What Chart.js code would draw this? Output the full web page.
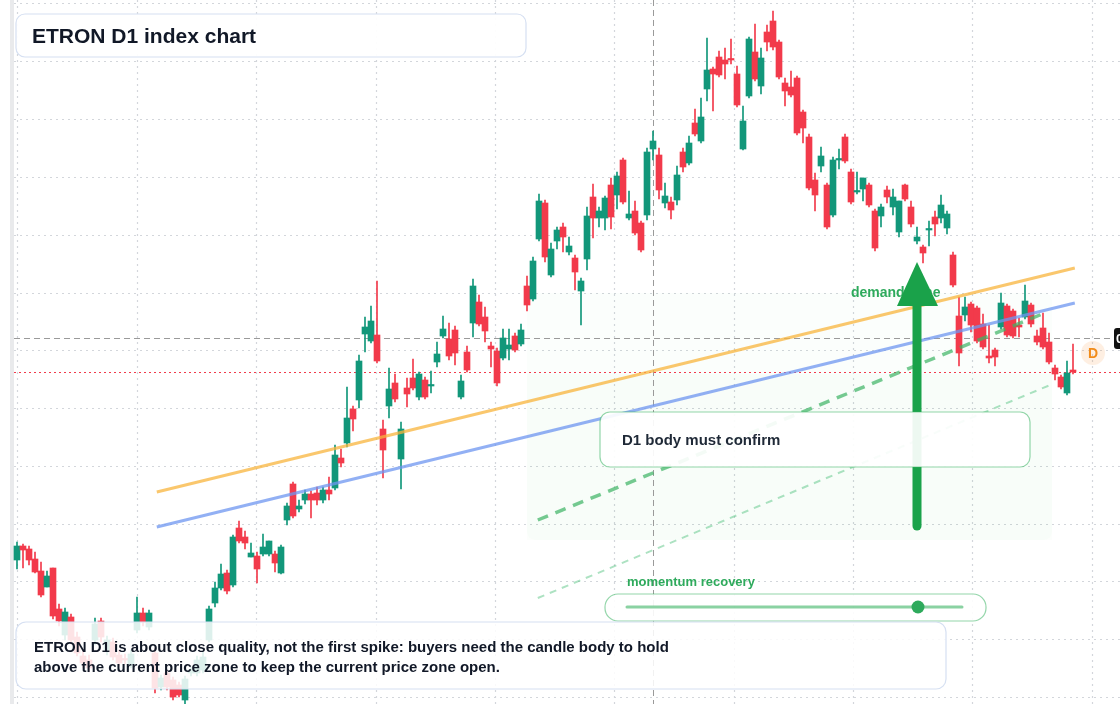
<!DOCTYPE html>
<html><head><meta charset="utf-8">
<script src="https://cdn.jsdelivr.net/npm/chart.js@4"></script>
<style>html,body{margin:0;padding:0;background:#fff}#w{width:1120px;height:704px}</style>
</head><body><div id="w"><canvas id="c"></canvas></div>
<script>
const opens  = [144,158,155,145,133,117,136,95,69,87,67,48,44,64,83,54,62,49,45,39,74,91,77,51,17,31,24,19,4,31,31,34,64,101,116,131,119,176,167,147,148,150,150,150,131,184,220,195,204,210,211,204,214,216,246,261,295,304,370,363,369,275,298,321,245,316,326,307,324,318,342,368,365,374,307,352,381,402,387,358,353,346,355,368,360,418,405,465,501,429,463,477,452,446,413,445,507,486,486,519,509,544,486,493,481,489,555,549,501,502,504,552,541,581,563,615,635,647,644,645,630,555,608,652,618,672,683,662,621,617,626,592,567,524,538,519,489,544,567,532,512,515,519,493,488,514,497,472,519,497,463,457,474,487,486,476,449,388,389,400,396,380,348,354,377,398,393,379,387,399,368,376,362,336,327,311,334];
const highs  = [162,160,158,152,142,133,136,100,96,90,72,54,49,86,86,68,66,54,50,54,107,96,94,56,29,34,27,22,28,37,48,52,98,122,140,134,169,183,173,161,152,170,163,153,159,201,222,204,214,213,217,217,227,259,255,317,298,349,387,398,423,284,336,330,282,326,345,332,327,333,362,388,381,378,329,358,425,409,397,362,356,375,375,371,380,428,447,510,504,461,477,481,467,449,426,497,520,497,508,526,532,546,513,503,483,556,573,556,521,507,538,556,568,595,606,666,637,653,656,665,638,598,667,680,656,679,693,664,626,633,628,594,570,531,557,521,547,555,570,535,532,526,521,495,500,518,515,503,520,503,477,459,483,493,509,493,452,407,407,402,398,390,379,356,411,400,395,386,419,401,374,391,371,339,329,343,360];
const lows   = [135,136,139,131,107,117,85,78,64,60,48,36,32,59,62,49,44,38,40,36,71,78,74,11,14,14,4,7,0,28,28,31,62,97,114,110,117,161,155,147,121,148,148,132,130,179,186,192,200,186,199,201,204,214,237,257,273,296,352,361,341,226,286,302,215,297,314,304,305,311,337,366,344,339,305,332,367,378,362,337,318,344,344,352,358,393,403,463,442,427,455,452,449,414,379,434,466,477,474,475,495,500,484,469,452,484,544,505,496,485,499,532,539,568,561,603,593,627,625,640,597,554,606,623,610,653,654,625,598,607,569,561,514,493,532,475,487,535,541,500,510,503,497,453,477,501,489,467,503,477,460,441,458,468,481,470,417,338,383,372,361,355,341,338,375,367,366,367,385,377,359,355,340,324,315,309,330];
const closes = [158,154,144,132,109,128,88,83,92,64,51,41,36,80,67,64,47,41,44,50,91,82,91,16,26,17,7,9,25,34,44,47,95,116,130,113,167,163,161,151,135,157,163,141,157,198,188,198,210,204,204,214,210,249,241,286,285,343,377,383,343,254,315,305,275,310,316,330,307,319,350,375,348,351,323,334,418,380,373,355,321,366,359,354,374,399,443,503,447,455,474,467,458,432,423,488,486,493,506,487,528,502,490,471,454,552,563,514,508,494,529,537,561,570,587,634,630,629,640,644,599,583,665,625,646,662,657,627,613,609,571,576,516,509,548,477,544,545,543,502,513,526,499,456,497,507,507,503,505,480,467,451,475,480,499,490,419,351,397,379,363,357,346,347,401,369,368,377,403,380,362,357,342,330,317,331,332];
const gridLevels = [701,643,585,527,469,411,354,296,238,180,123,65,7];
const gridIndexes = [0,20,39.83,59.83,79.67,99.5,119.5,139.33,159.17,179.17];
const crossIndex = 106, crossLevel = 366, lastPriceLevel = 332;
const orangeLine = [[23.3,212],[176.3,436]];
const blueLine = [[23.3,177],[176.3,401]];
const greenDash = [[86.8,184],[171.3,391]];
const greenDashLight = [[86.8,106],[172.2,319]];
const zone = [[85,411],[172.5,164]];
const arrow = {i:150, from:174, to:442};
const titleText = "ETRON D1 index chart";
const noteLines = ["ETRON D1 is about close quality, not the first spike: buyers need the candle body to hold","above the current price zone to keep the current price zone open."];
const labels = {demand:"demand zone", confirm:"D1 body must confirm", momentum:"momentum recovery", tag:"D"};

const GREEN='#12977a', RED='#f23a4b';
const idx = opens.map((_,i)=>i);
const up = i => closes[i] >= opens[i];
const wickData = idx.map(i=>({x:i,y:[lows[i],highs[i]]}));
const bodyData = idx.map(i=>{let a=Math.min(opens[i],closes[i]),b=Math.max(opens[i],closes[i]);if(b-a<1.5){b=a+1.5;}return {x:i,y:[a,b]};});

function rr(ctx,x,y,w,h,r){ctx.beginPath();ctx.moveTo(x+r,y);ctx.arcTo(x+w,y,x+w,y+h,r);ctx.arcTo(x+w,y+h,x,y+h,r);ctx.arcTo(x,y+h,x,y,r);ctx.arcTo(x,y,x+w,y,r);ctx.closePath();}

const under = {id:'under', beforeDatasetsDraw(ch){
  const c=ch.ctx, X=ch.scales.x, Y=ch.scales.y, W=ch.width, H=ch.height;
  c.save();
  c.fillStyle='#e9eaec'; c.fillRect(10,0,4,H);
  c.strokeStyle='#d3d6db'; c.lineWidth=1.2; c.setLineDash([2,4]);
  gridLevels.forEach(v=>{const y=Math.round(Y.getPixelForValue(v))+0.5;c.beginPath();c.moveTo(14,y);c.lineTo(W,y);c.stroke();});
  gridIndexes.forEach(v=>{const x=Math.round(X.getPixelForValue(v))+0.5;c.beginPath();c.moveTo(x,0);c.lineTo(x,H);c.stroke();});
  const zx0=X.getPixelForValue(zone[0][0]), zy0=Y.getPixelForValue(zone[0][1]), zx1=X.getPixelForValue(zone[1][0]), zy1=Y.getPixelForValue(zone[1][1]);
  c.setLineDash([]);
  c.fillStyle='rgba(34,197,94,0.018)'; rr(c,zx0,zy0,zx1-zx0,zy1-zy0,8); c.fill();
  c.fillStyle='rgba(34,197,94,0.014)'; c.fillRect(zx0,Y.getPixelForValue(330),zx1-zx0,zy1-Y.getPixelForValue(330));
  c.strokeStyle='#9a9a9a'; c.lineWidth=1; c.setLineDash([6,4]);
  const cx=Math.round(X.getPixelForValue(crossIndex))+0.5, cy=Math.round(Y.getPixelForValue(crossLevel))+0.5;
  c.beginPath();c.moveTo(cx,0);c.lineTo(cx,H);c.stroke();
  c.beginPath();c.moveTo(14,cy);c.lineTo(W,cy);c.stroke();
  c.strokeStyle='#f23a4b'; c.setLineDash([2,3]);
  const py=Math.round(Y.getPixelForValue(lastPriceLevel))+0.5;
  c.beginPath();c.moveTo(14,py);c.lineTo(W,py);c.stroke();
  c.restore();
}};

const over = {id:'over', afterDatasetsDraw(ch){
  const c=ch.ctx, X=ch.scales.x, Y=ch.scales.y;
  const P=p=>[X.getPixelForValue(p[0]),Y.getPixelForValue(p[1])];
  function seg(pts,col,w,dash){const a=P(pts[0]),b=P(pts[1]);c.save();c.strokeStyle=col;c.lineWidth=w;c.setLineDash(dash||[]);c.beginPath();c.moveTo(a[0],a[1]);c.lineTo(b[0],b[1]);c.stroke();c.restore();}
  seg(greenDashLight,'rgba(74,190,120,0.45)',2,[7,6]);
  seg(orangeLine,'rgba(248,180,60,0.75)',3);
  seg(blueLine,'rgba(110,150,240,0.75)',3);
  seg(greenDash,'rgba(60,180,100,0.7)',3.5,[11,8]);
  c.save();
  const F='"Liberation Sans", Arial, sans-serif';
  c.font='bold 14px '+F; c.fillStyle='#2eaa5c'; c.textBaseline='middle';
  c.fillText(labels.demand,851,293);
  const ax=X.getPixelForValue(arrow.i), ay0=Y.getPixelForValue(arrow.from), ay1=Y.getPixelForValue(arrow.to);
  c.strokeStyle='#1aa24a'; c.lineWidth=9; c.lineCap='round';
  c.beginPath();c.moveTo(ax,ay0-4);c.lineTo(ax,ay1+40);c.stroke();
  c.fillStyle='#1aa24a'; c.beginPath();c.moveTo(ax,ay1);c.lineTo(ax-20,ay1+44);c.lineTo(ax+21,ay1+44);c.closePath();c.fill();
  rr(c,600,412,430,55,10); c.fillStyle='rgba(255,255,255,0.92)'; c.fill(); c.strokeStyle='rgba(60,180,100,0.55)'; c.lineWidth=1.2; c.stroke();
  c.fillStyle='#1f2937'; c.font='bold 15px '+F; c.fillText(labels.confirm,622,441);
  c.fillStyle='#2eaa5c'; c.font='bold 13px '+F; c.fillText(labels.momentum,627,582);
  rr(c,605,594,381,27,13); c.fillStyle='rgba(255,255,255,0.9)'; c.fill(); c.strokeStyle='rgba(60,180,100,0.55)'; c.lineWidth=1.2; c.stroke();
  c.strokeStyle='rgba(60,180,100,0.6)'; c.lineWidth=3; c.beginPath();c.moveTo(627,607);c.lineTo(962,607);c.stroke();
  c.fillStyle='#2eaa5c'; c.beginPath();c.arc(918,607,6.5,0,Math.PI*2);c.fill();
  rr(c,16,14,510,43,9); c.fillStyle='rgba(255,255,255,0.95)'; c.fill(); c.strokeStyle='#d6e0f2'; c.lineWidth=1.2; c.stroke();
  c.fillStyle='#111827'; c.font='bold 21px '+F; c.fillText(titleText,32,37);
  rr(c,16,622,930,67,10); c.fillStyle='rgba(255,255,255,0.86)'; c.fill(); c.strokeStyle='#d6e0f2'; c.stroke();
  c.fillStyle='#111827'; c.font='bold 15px '+F;
  c.fillText(noteLines[0],34,648); c.fillText(noteLines[1],34,668);
  c.fillStyle='#111'; rr(c,1114,328,14,21,3); c.fill();
  c.fillStyle='#fff'; c.font='bold 13px '+F; c.fillText('0',1116,339);
  c.fillStyle='rgba(251,146,60,0.15)'; c.beginPath(); c.arc(1093,353,12,0,Math.PI*2); c.fill();
  c.fillStyle='#f28c1a'; c.font='bold 14px '+F; c.textAlign='center'; c.fillText(labels.tag,1093,354);
  c.restore();
}};

new Chart(document.getElementById('c'),{
  type:'bar',
  data:{datasets:[
    {data:wickData,barThickness:1,backgroundColor:ctx=>up(ctx.dataIndex)?GREEN:RED,grouped:false,order:2},
    {data:bodyData,barThickness:6,backgroundColor:ctx=>up(ctx.dataIndex)?GREEN:RED,grouped:false,order:1}
  ]},
  options:{responsive:true,maintainAspectRatio:false,animation:false,
    layout:{padding:0},
    plugins:{legend:{display:false},tooltip:{enabled:false}},
    scales:{
      x:{type:'linear',display:false,min:-17/6,max:(1120-17)/6,offset:false},
      y:{type:'linear',display:false,min:0,max:704}
    }},
  plugins:[under,over]
});
</script></body></html>
